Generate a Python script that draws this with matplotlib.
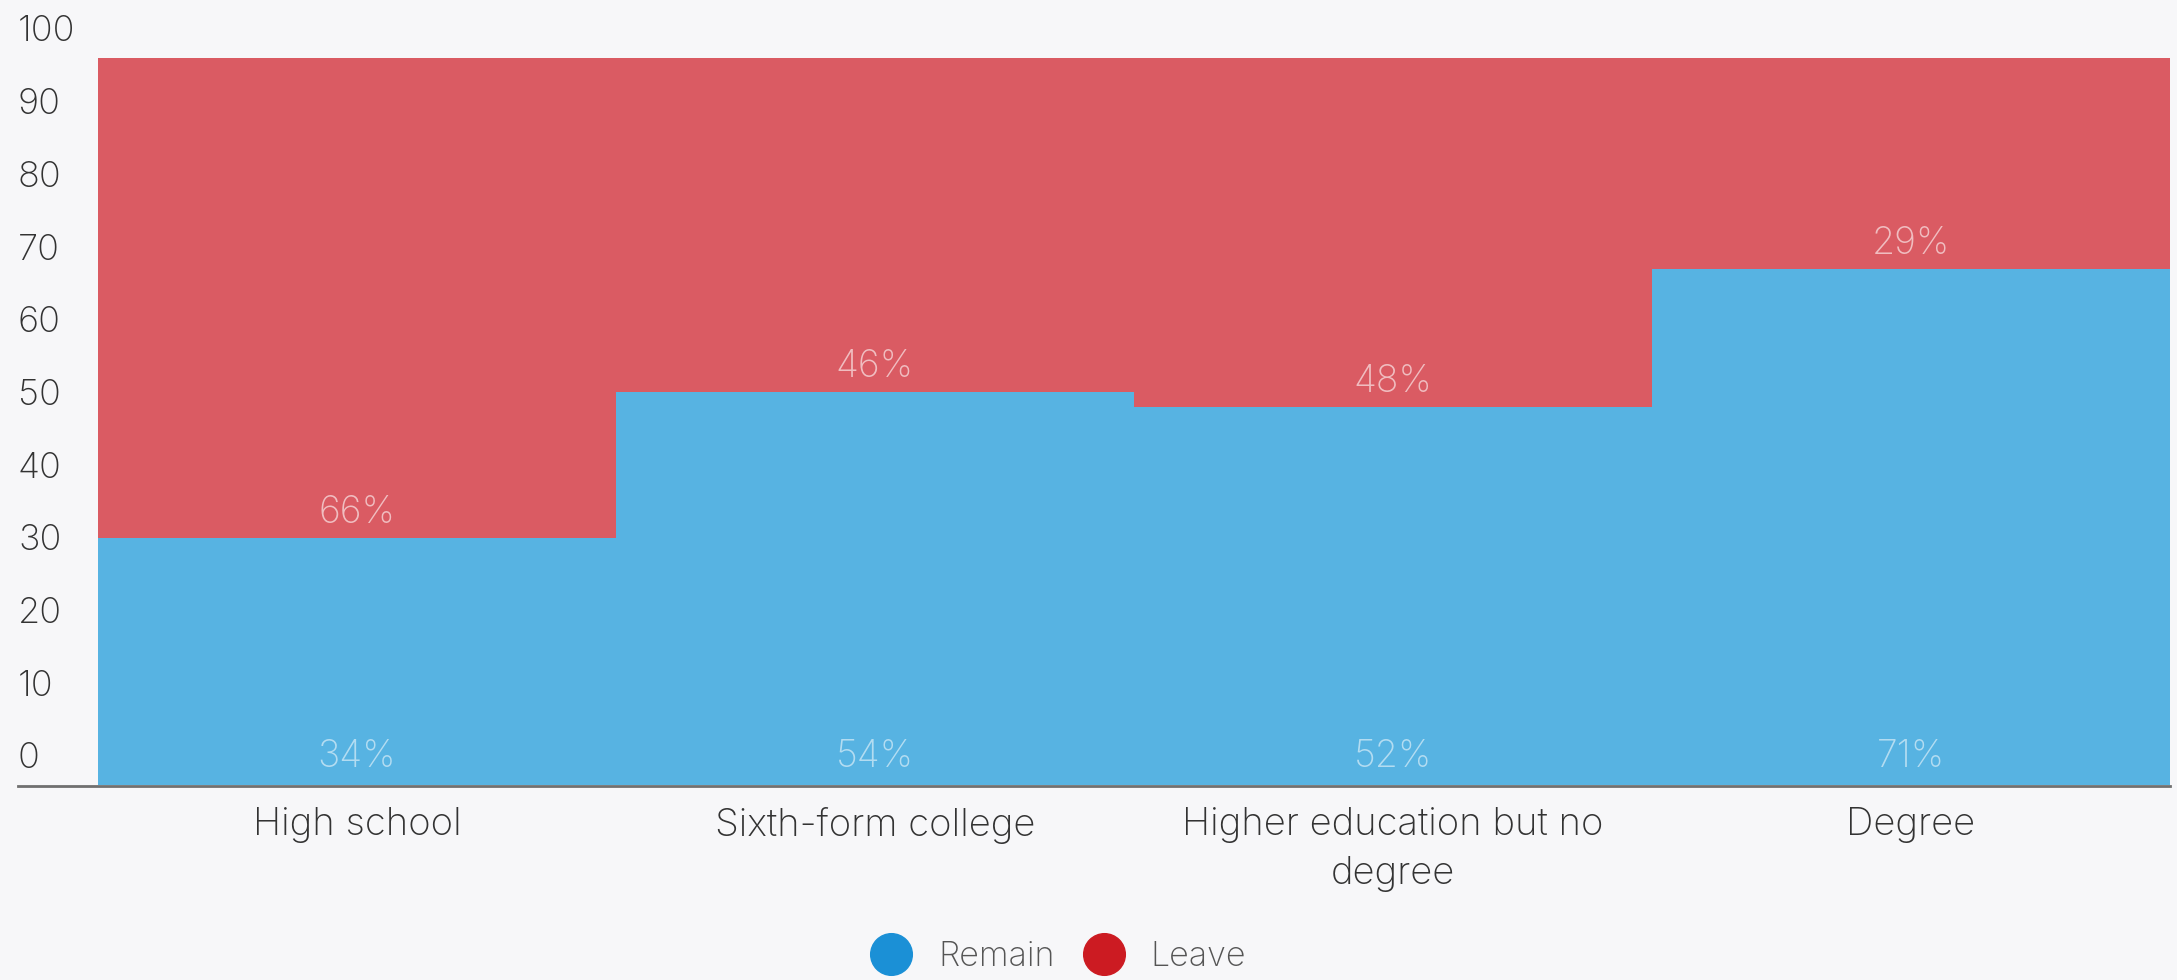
import matplotlib.pyplot as plt
from matplotlib.lines import Line2D
from matplotlib.transforms import blended_transform_factory, ScaledTranslation

categories = ['High school', 'Sixth-form college', 'Higher education but no\ndegree', 'Degree']
remain = [34, 54, 52, 71]
leave = [66, 46, 48, 29]
y_ticks = list(range(0, 101, 10))

bg = '#f7f7f9'
blue_bar, red_bar = '#57b3e2', '#da5b63'
blue_key, red_key = '#1b90d6', '#cc1b22'

plt.rcParams['font.family'] = ['Inter', 'DejaVu Sans']
plt.rcParams['font.weight'] = 'light'

fig = plt.figure(figsize=(21.77, 9.8), dpi=100, facecolor=bg)
W, H = 2177, 980
ax = fig.add_axes([98 / W, 1 - 785 / H, (2170 - 98) / W, (785 - 58) / H])
ax.set_facecolor(bg)

x = range(len(categories))
ax.bar(x, remain, width=1.0, color=blue_bar, linewidth=0)
ax.bar(x, leave, width=1.0, bottom=remain, color=red_bar, linewidth=0)

# value labels sit just inside the bottom edge of each segment
for i in x:
    ax.annotate(f'{remain[i]}%', (i, 0), xytext=(0, 20), textcoords='offset points',
                ha='center', va='center', fontsize=27, color='white', alpha=0.55)
    ax.annotate(f'{leave[i]}%', (i, remain[i]), xytext=(0, 18), textcoords='offset points',
                ha='center', va='center', fontsize=27, color='white', alpha=0.6)

ax.set_xlim(-0.5, len(categories) - 0.5)
ax.set_ylim(0, 100)
for s in ax.spines.values():
    s.set_visible(False)
ax.set_yticks([])
ax.set_xticks(list(x))
ax.set_xticklabels(categories, fontsize=27.5, color='#333333', linespacing=1.45)
ax.tick_params(axis='x', length=0, pad=16)

# baseline running under the y labels too
ax.plot([18 / W, 2170 / W], [1 - 786 / H, 1 - 786 / H], transform=fig.transFigure,
        color='#707070', lw=2, clip_on=False)

# y labels sit above their gridline positions
ytrans = blended_transform_factory(fig.transFigure, ax.transData) + \
    ScaledTranslation(0, 0.26, fig.dpi_scale_trans)
for v in y_ticks:
    ax.text(18 / W, v, str(v), transform=ytrans, ha='left', va='center',
            fontsize=26, color='#333333')

handles = [Line2D([], [], marker='o', ls='', markersize=30, color=blue_key),
           Line2D([], [], marker='o', ls='', markersize=30, color=red_key)]
leg = fig.legend(handles, ['Remain', 'Leave'], loc='center', ncol=2,
                 bbox_to_anchor=(1060 / W, 1 - 957 / H), frameon=False,
                 fontsize=24.5, handletextpad=0.88, columnspacing=0.94, handlelength=1.0)
for t in leg.get_texts():
    t.set_color('#555555')

fig.savefig('out.png', dpi=100, facecolor=bg)
